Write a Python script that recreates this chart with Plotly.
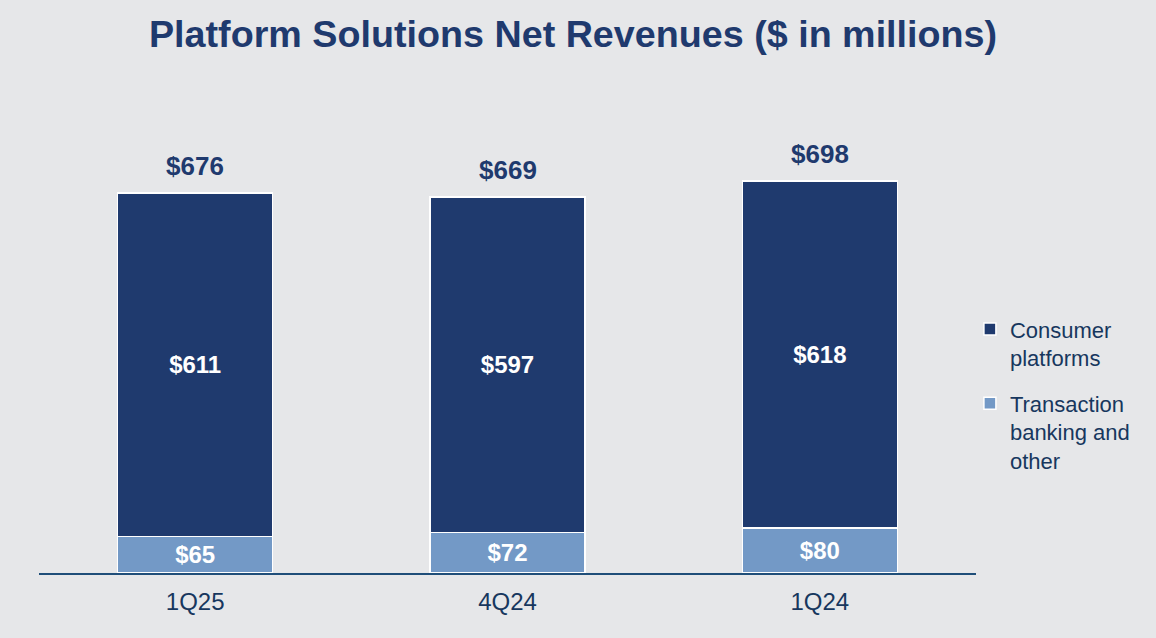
import plotly.graph_objects as go

# data
quarters = ["1Q25", "4Q24", "1Q24"]
consumer = [611, 597, 618]
transaction = [65, 72, 80]
totals = [c + t for c, t in zip(consumer, transaction)]

NAVY = "#1f3a6e"
LIGHT = "#7399c6"
BG = "#e6e7e9"
TXT = "#17375e"
FONT = "Liberation Sans, Arial, sans-serif"

fig = go.Figure()
fig.add_trace(go.Bar(
    x=quarters, y=transaction, name="Transaction<br>banking and<br>other",
    marker=dict(color=LIGHT, line=dict(color="white", width=1.5)),
    text=["$" + str(v) for v in transaction], textposition="inside",
    insidetextanchor="middle",
    textfont=dict(color="white", size=24, family=FONT, weight="bold"),
    legendgroup="b", legendrank=2,
))
fig.add_trace(go.Bar(
    x=quarters, y=consumer, name="Consumer<br>platforms",
    marker=dict(color=NAVY, line=dict(color="white", width=1.5)),
    text=["$" + str(v) for v in consumer], textposition="inside",
    insidetextanchor="middle",
    textfont=dict(color="white", size=24, family=FONT, weight="bold"),
    legendgroup="a", legendrank=1,
))

# totals above bars
for q, t in zip(quarters, totals):
    fig.add_annotation(x=q, y=t, text="$" + str(t), showarrow=False,
                       yanchor="bottom", yshift=10,
                       font=dict(color=NAVY, size=26, family=FONT, weight="bold"))

fig.update_layout(
    width=1156, height=638,
    margin=dict(l=39, r=180, t=146, b=65),
    paper_bgcolor=BG, plot_bgcolor=BG,
    barmode="stack", bargap=0.504,
    uniformtext=dict(minsize=10, mode="show"),
    title=dict(text="<b>Platform Solutions Net Revenues ($ in millions)</b>",
               x=0.4957, xanchor="center", y=0.947, yanchor="middle",
               font=dict(color=NAVY, size=37.7, family=FONT)),
    legend=dict(x=0.9935, xanchor="left", y=0.62, yanchor="top",
                traceorder="grouped", tracegroupgap=14,
                valign="top",
                font=dict(color=TXT, size=22, family=FONT),
                bgcolor="rgba(0,0,0,0)"),
    xaxis=dict(range=[-0.5, 2.5], showgrid=False, showline=True,
               linecolor="#1f4e79", linewidth=2, ticks="",
               ticklabelstandoff=6,
               tickfont=dict(color=TXT, size=24, family=FONT)),
    yaxis=dict(range=[0, 760], visible=False, showgrid=False),
)

fig.write_html("out.html", config={"displayModeBar": False},
               post_script="document.body.style.margin='0';")
